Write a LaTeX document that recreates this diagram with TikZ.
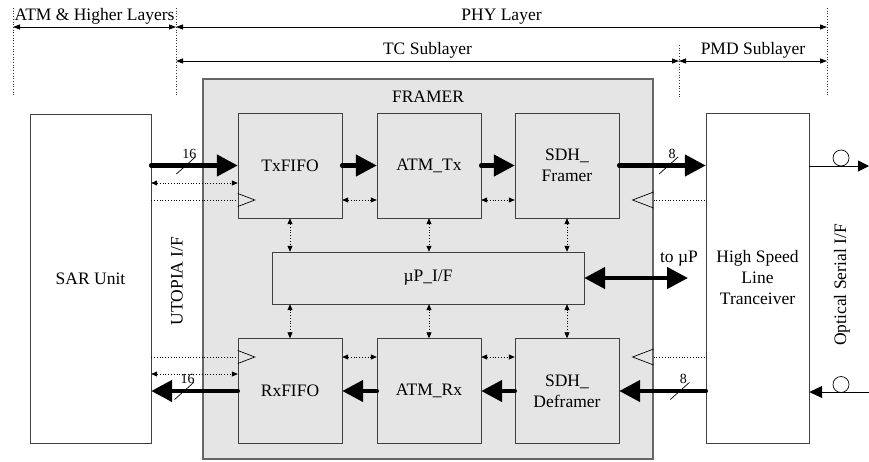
\documentclass[tikz,border=0pt]{standalone}
\usepackage{fontspec}
\setmainfont{Liberation Serif}
\usetikzlibrary{arrows.meta}

\tikzset{
    blk/.style={draw=black!75,fill=gray!20,minimum width=104pt,minimum height=105pt,align=center,inner sep=0pt},
    unit/.style={draw=black!75,fill=white,align=center,inner sep=0pt},
    bus/.style={line width=4.5pt,line cap=round,-{Triangle[length=21pt,width=21pt]}},
    dctl/.style={dotted,line width=0.8pt,{Triangle[length=6pt,width=5pt]}-{Triangle[length=6pt,width=5pt]}},
    ctl/.style={dotted,line width=0.8pt},
    clk/.style={line width=0.7pt},
    guide/.style={dotted,line width=0.7pt,black!80},
    dim/.style={line width=0.8pt,{Triangle[length=7pt,width=5pt]}-{Triangle[length=7pt,width=5pt]}},
    num/.style={font=\fontsize{14}{14}\selectfont,inner sep=0pt}
}
\newcommand{\buswidth}[2]{
    \draw[line width=0.7pt] ([shift={(-9.5,8.5)}]#1) -- ([shift={(9.5,-8.5)}]#1);
    \node[num] at ([shift={(3.5,-12)}]#1) {#2};
}

\begin{document}
\begin{tikzpicture}[x=1pt,y=-1pt,font=\fontsize{17.5}{21}\selectfont]
    \useasboundingbox (0,0) rectangle (869,461);

    % layer marks
    \coordinate (m1) at (13,8);
    \coordinate (m2) at (176,8);
    \coordinate (m3) at (679,45);
    \coordinate (m4) at (827,8);
    \foreach \m in {m1,m2,m3,m4}
        \draw[guide] (\m) -- (\m |- 0,97);
    \draw[dim] (m1 |- 0,27) -- (m2 |- 0,27) node[midway,anchor=south,inner sep=2pt] {ATM \& Higher Layers};
    \draw[dim] (m2 |- 0,27) -- (m4 |- 0,27) node[midway,anchor=south,inner sep=2pt] {PHY Layer};
    \draw[dim] (m2 |- 0,61) -- (m3 |- 0,61) node[midway,anchor=south,inner sep=2pt] {TC Sublayer};
    \draw[dim] (m3 |- 0,61) -- (m4 |- 0,61) node[midway,anchor=south,inner sep=2pt] {PMD Sublayer};

    % framer
    \node[draw=black!60,fill=gray!20,line width=1.2pt,minimum width=450pt,minimum height=380pt,inner sep=0pt] (framer) at (428,269) {};
    \node (ftitle) at (428,97) {FRAMER};

    \node[unit,minimum width=121pt,minimum height=329pt] (sar) at (90.5,278.5) {SAR Unit};
    \node[unit,minimum width=103pt,minimum height=330pt] (hs) at (757.5,278) {High Speed\\Line\\Tranceiver};

    \node[blk] (txfifo) at (290,165.5) {TxFIFO};
    \node[blk] (atmtx) at (429,165.5) {ATM\_Tx};
    \node[blk] (sdhf) at (567,165.5) {SDH\_\\Framer};
    \node[blk] (rxfifo) at (290,391) {RxFIFO};
    \node[blk] (atmrx) at (429,391) {ATM\_Rx};
    \node[blk] (sdhd) at (567,391) {SDH\_\\Deframer};
    \node[blk,minimum width=312pt,minimum height=52pt] (up) at (428,278) {µP\_I/F};

    \node[rotate=90] (utopia) at (177,281) {UTOPIA I/F};
    \node[rotate=90] (optical) at (842,285) {Optical Serial I/F};

    % data paths
    \draw[bus] (sar.east |- txfifo.west) -- (txfifo.west);
    \draw[bus] (txfifo.east) -- (atmtx.west);
    \draw[bus] (atmtx.east) -- (sdhf.west);
    \draw[bus] (sdhf.east) -- (hs.west |- sdhf.east);
    \draw[bus] (hs.west |- sdhd.east) -- (sdhd.east);
    \draw[bus] (sdhd.west) -- (atmrx.east);
    \draw[bus] (atmrx.west) -- (rxfifo.east);
    \draw[bus] (rxfifo.west) -- (sar.east |- rxfifo.west);
    \path (sar.east |- txfifo.west) -- (txfifo.west) coordinate[pos=0.4] (w1);
    \path (rxfifo.west) -- (sar.east |- rxfifo.west) coordinate[pos=0.62] (w2);
    \path (sdhf.east) -- (hs.west |- sdhf.east) coordinate[pos=0.57] (w3);
    \path (hs.west |- sdhd.east) -- (sdhd.east) coordinate[pos=0.3] (w4);
    \buswidth{w1}{16}
    \buswidth{w2}{16}
    \buswidth{w3}{8}
    \buswidth{w4}{8}

    \coordinate (tomp) at (688,278);
    \draw[bus,{Triangle[length=21pt,width=21pt]}-{Triangle[length=21pt,width=21pt]}] (up.east) -- (tomp);
    \node[anchor=south,inner sep=1pt] (tomplbl) at (679,267) {to µP};

    % control lines
    \coordinate (txc1) at ([yshift=-17.5pt]txfifo.west);
    \coordinate (txc2) at ([yshift=-34.5pt]txfifo.west);
    \coordinate (rxc1) at ([yshift=17pt]rxfifo.west);
    \coordinate (rxc2) at ([yshift=34pt]rxfifo.west);
    \draw[dctl] (sar.east |- txc1) -- (txc1);
    \draw[dctl] (sar.east |- rxc1) -- (rxc1);
    \draw[ctl] (sar.east |- txc2) -- (txc2);
    \draw[ctl] (sar.east |- rxc2) -- (rxc2);
    \draw[clk] ([yshift=6.5pt]txc2) -- ++(17,6.5) -- ++(-17,6.5);
    \draw[clk] ([yshift=6.5pt]rxc2) -- ++(17,6.5) -- ++(-17,6.5);

    \coordinate (fc1) at (framer.east |- txc2);
    \coordinate (fc2) at (framer.east |- rxc2);
    \draw[ctl] (fc1) -- (hs.west |- fc1);
    \draw[ctl] (fc2) -- (hs.west |- fc2);
    \draw[clk] ([yshift=8pt]fc1) -- ++(-21,8) -- ++(21,8);
    \draw[clk] ([yshift=8pt]fc2) -- ++(-21,8) -- ++(21,8);

    \draw[dctl] (txfifo.east |- txc2) -- (atmtx.west |- txc2);
    \draw[dctl] (atmtx.east |- txc2) -- (sdhf.west |- txc2);
    \draw[dctl] (rxfifo.east |- rxc2) -- (atmrx.west |- rxc2);
    \draw[dctl] (atmrx.east |- rxc2) -- (sdhd.west |- rxc2);
    \foreach \b in {txfifo,atmtx,sdhf}
        \draw[dctl] (\b.south) -- (\b.south |- up.north);
    \foreach \b in {rxfifo,atmrx,sdhd}
        \draw[dctl] (\b.north) -- (\b.north |- up.south);

    % optical side
    \coordinate (optout) at (869,166);
    \coordinate (optin) at (869,392);
    \draw[line width=0.9pt,-{Triangle[length=11pt,width=11pt]}] (hs.east |- optout) -- (optout);
    \draw[line width=0.9pt,-{Triangle[length=13pt,width=12pt]}] (optin) -- (hs.east |- optin);
    \draw[line width=0.7pt] (841,158) circle (8);
    \draw[line width=0.7pt] (841,384.5) circle (8);
\end{tikzpicture}
\end{document}
